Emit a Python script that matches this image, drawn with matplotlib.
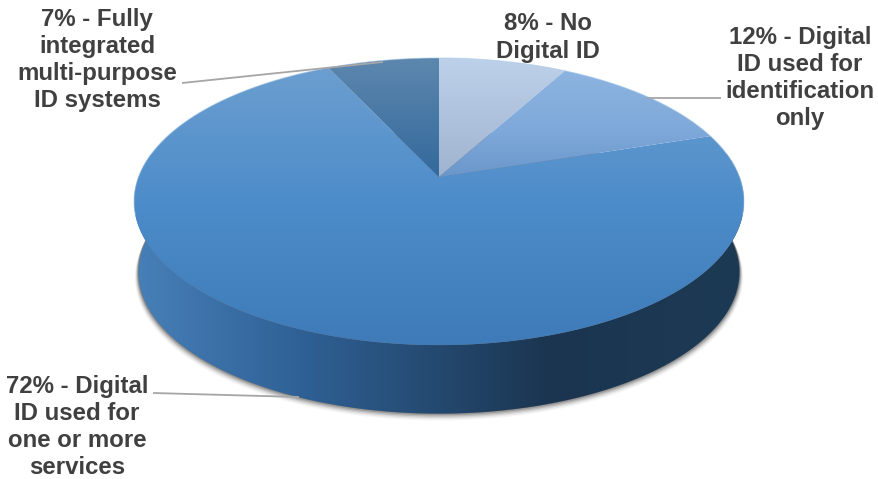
import numpy as np
import matplotlib
matplotlib.use("Agg")
import matplotlib.pyplot as plt
from matplotlib.colors import LinearSegmentedColormap
from matplotlib.patches import PathPatch, Polygon
from matplotlib.path import Path

# data, clockwise from 12 o'clock; the printed shares sum to 99, the 72% slice takes the rest
shares = [8, 12, 72, 7]
labels = ["8% - No\nDigital ID",
          "12% - Digital\nID used for\nidentification\nonly",
          "72% - Digital\nID used for\none or more\nservices",
          "7% - Fully\nintegrated\nmulti-purpose\nID systems"]

plt.rcParams['font.family'] = ['Liberation Sans', 'DejaVu Sans']
fig = plt.figure(figsize=(8.79, 4.79), dpi=100)
ax = fig.add_axes([0, 0, 1, 1])
ax.set_xlim(0, 879)
ax.set_ylim(479, 0)
ax.axis('off')

CX, CY, AX_, BY, E = 439.0, 177.0, 300.5, 139.4, 0.1708
DEPTH = 71.0
LOW_SCALE = 0.985


def project(deg, dy=0.0, scale=1.0):
    t = np.radians(deg)
    X, Y = np.sin(t), np.cos(t)
    d = 1 + E * Y
    return np.column_stack([CX + scale * AX_ * X / d, CY + dy - scale * BY * Y / d])


def gradient(stops, extent, vertical, clip_pts, zorder):
    cmap = LinearSegmentedColormap.from_list('g', stops)
    arr = np.linspace(0, 1, 256)
    arr = arr.reshape(-1, 1) if vertical else arr.reshape(1, -1)
    im = ax.imshow(arr, cmap=cmap, vmin=0, vmax=1, extent=extent, aspect='auto',
                   zorder=zorder, interpolation='bilinear')
    pts = np.vstack([clip_pts, clip_pts[:1]])
    codes = [Path.MOVETO] + [Path.LINETO] * (len(pts) - 2) + [Path.CLOSEPOLY]
    im.set_clip_path(PathPatch(Path(pts, codes), transform=ax.transData))
    return im


angles = np.linspace(0, 360, 721)

# side wall: the lower rim and the same rim shifted down
wide = np.linspace(80, 280, 401)
side = np.vstack([project(wide), project(wide, dy=DEPTH, scale=LOW_SCALE)[::-1]])

# soft shadow round the lower edge of the wall
for off, sc, alpha in zip([6, 5, 4, 3, 2, 1], [0.997, 0.995, 0.993, 0.991, 0.989, 0.987],
                          [0.04, 0.07, 0.11, 0.16, 0.22, 0.30]):
    ax.add_patch(Polygon(project(angles, dy=DEPTH + off - 1, scale=sc), closed=True,
                         fc='#303030', ec='none', alpha=alpha, zorder=1))

gradient([(0, '#4780b8'), (0.27, '#2f6196'), (0.44, '#274f79'), (0.68, '#1b3550'), (1, '#1d3a55')],
         (134, 744, 0, 479), False, side, 2)

# top face: stops run from top to bottom of each slice's y range
styles = [
    ([(0, '#bed1ea'), (1, '#9fb3d0')], 58, 177),
    ([(0, '#8db4e0'), (0.55, '#7fa9da'), (1, '#6a97cb')], 70, 177),
    ([(0, '#6ea0d0'), (0.5, '#4d8cca'), (1, '#3e7bb8')], 58, 345),
    ([(0, '#5d87ae'), (1, '#33699c')], 58, 177),
]
a0 = 0.0
for i, share in enumerate(shares):
    a1 = 360.0 - shares[3] * 3.6 if i == 2 else a0 + share * 3.6
    arc = project(np.linspace(a0, a1, max(int(a1 - a0) * 2, 8)))
    poly = np.vstack([[CX, CY], arc])
    stops, y0, y1 = styles[i]
    gradient(stops, (0, 879, y1, y0), True, poly, 3 + (0 if i == 2 else 1))
    a0 = a1

# faint light edge on the upper part of the top face only
upper = np.linspace(-105, 105, 421)
ax.plot(*project(upper).T, color='#a9cbe8', lw=0.7, alpha=0.6, zorder=5)

# leader lines
leaders = [((182, 83), (383, 62)), ((647, 98), (721, 98)), ((153, 393), (299, 397))]
for (x0, y0), (x1, y1) in leaders:
    ax.plot([x0, x1], [y0, y1], color='#a6a6a6', lw=1.3, zorder=6, solid_capstyle='butt')

positions = [(548, 37.5), (800, 78), (77, 427), (97, 60)]
for (x, y), s in zip(positions, labels):
    ax.text(x, y, s, ha='center', va='center', fontsize=17.3, fontweight='bold',
            color='#404040', linespacing=1.24, zorder=7)

fig.savefig('out.png', dpi=100, facecolor='white')
